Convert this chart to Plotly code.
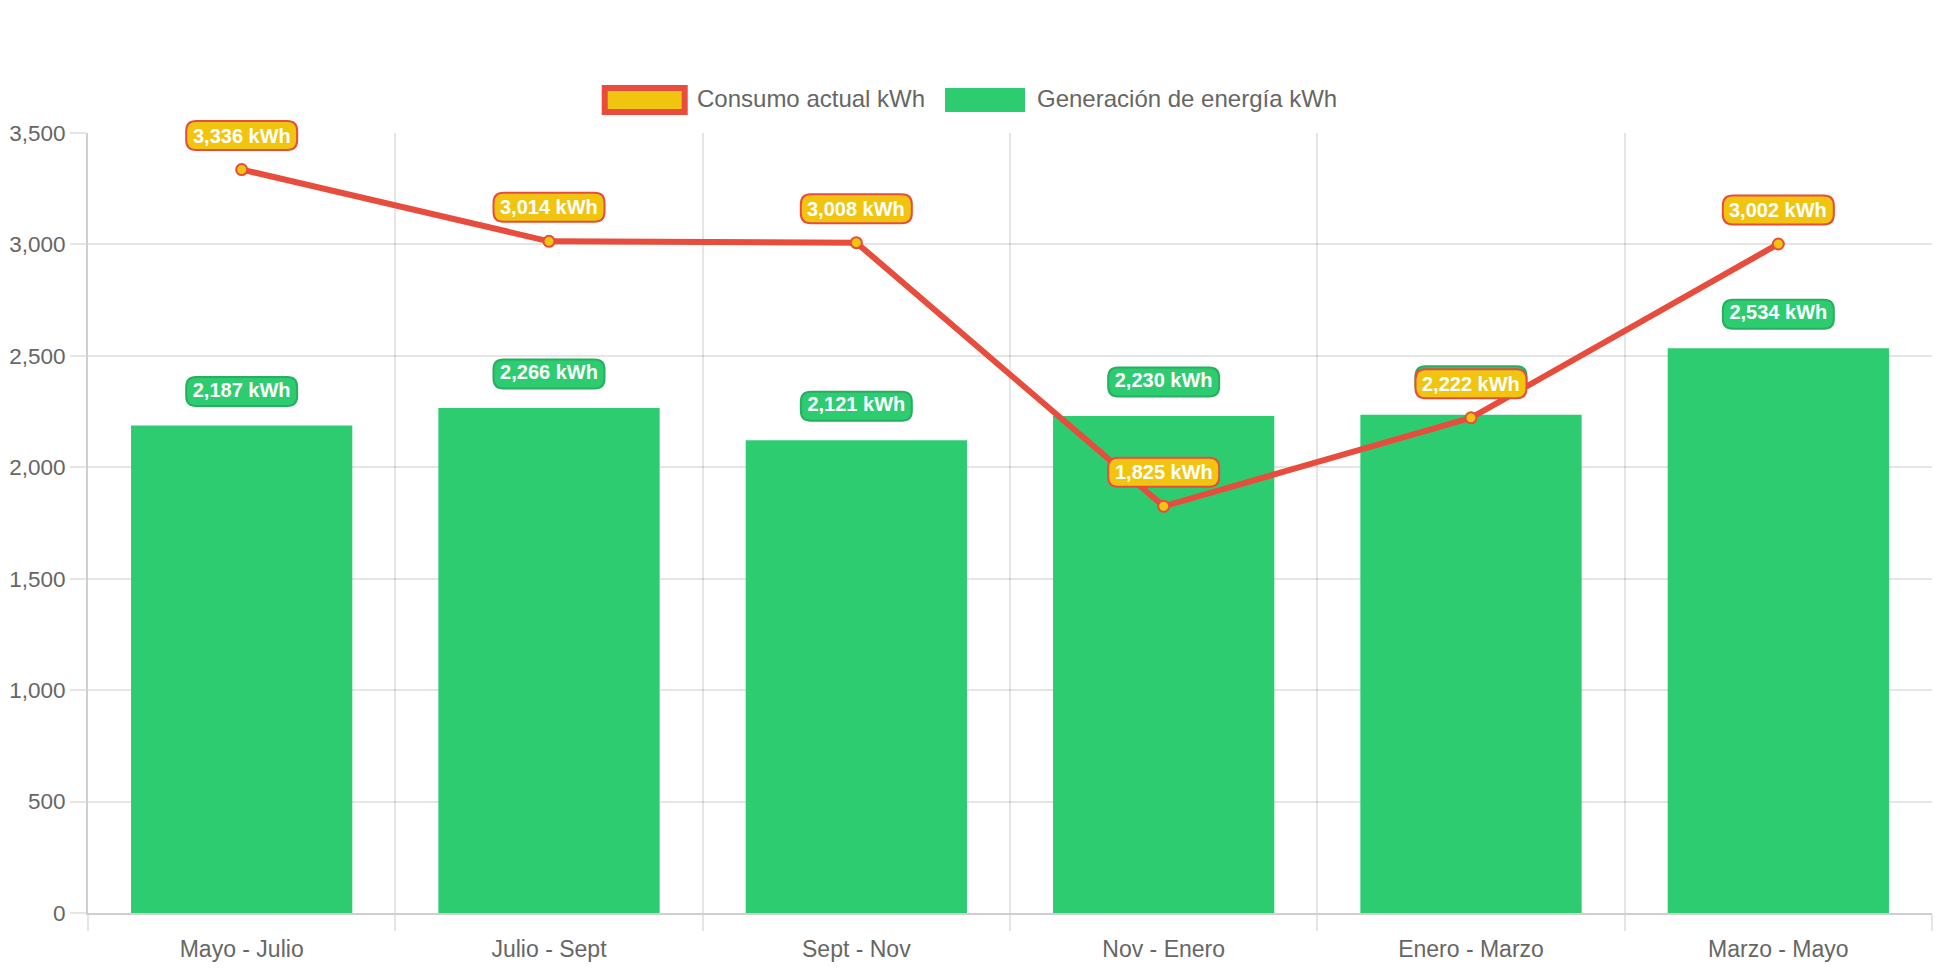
import plotly.graph_objects as go

# ---------------- data ----------------
categories = ["Mayo - Julio", "Julio - Sept", "Sept - Nov", "Nov - Enero", "Enero - Marzo", "Marzo - Mayo"]
consumo_kwh = [3336, 3014, 3008, 1825, 2222, 3002]
generacion_kwh = [2187, 2266, 2121, 2230, 2236, 2534]
y_ticks = [0, 500, 1000, 1500, 2000, 2500, 3000, 3500]
series_names = ["Consumo actual kWh", "Generación de energía kWh"]

# ---------------- style / layout constants ----------------
W, H = 1926, 954
ML, MR, MT, MB = 80, 2, 125, 49
PW, PH = W - ML - MR, H - MT - MB
YMAX = 3500

RED = "#e74c3c"
YELLOW = "#f1c40f"
GREEN = "#2ecc71"
GREEN_DARK = "#27ae60"
GRID = "rgba(0,0,0,0.1)"
AXIS = "#cfcfcf"
TXT = "#666666"
FONT = "Liberation Sans, Arial, Helvetica, sans-serif"

LABEL_OFF = 34          # px above value
BOX_W, BOX_H, BOX_R = 111, 29, 10


def fmt(v):
    return f"{v:,} kWh"


def rounded_path(cx, cy, w, h, r):
    x0, x1 = cx - w / 2, cx + w / 2
    y0, y1 = cy - h / 2, cy + h / 2
    return (f"M{x0 + r},{y0} L{x1 - r},{y0} Q{x1},{y0} {x1},{y0 + r} "
            f"L{x1},{y1 - r} Q{x1},{y1} {x1 - r},{y1} L{x0 + r},{y1} "
            f"Q{x0},{y1} {x0},{y1 - r} L{x0},{y0 + r} Q{x0},{y0} {x0 + r},{y0} Z")


def px_x(x):
    return (x - ML) / PW


def px_y(y):
    return (H - MB - y) / PH


def val_to_paper(v):
    # linear y scale [0, YMAX] -> paper fraction (avoids clipping of label boxes)
    return v / YMAX


fig = go.Figure()

# bars
fig.add_trace(go.Bar(
    x=categories, y=generacion_kwh, name=series_names[1],
    marker=dict(color=GREEN, line=dict(width=0)),
    showlegend=False, hoverinfo="skip",
))

# green label text (drawn with traces, above 'between' shapes)
off_units = LABEL_OFF * YMAX / PH
fig.add_trace(go.Scatter(
    x=categories, y=[v + off_units for v in generacion_kwh],
    mode="text", text=[fmt(v) for v in generacion_kwh],
    textposition="middle center",
    textfont=dict(family=FONT, size=20, color="white", weight="bold"),
    showlegend=False, hoverinfo="skip", cliponaxis=False,
))

# line
fig.add_trace(go.Scatter(
    x=categories, y=consumo_kwh, name=series_names[0], mode="lines+markers",
    line=dict(color=RED, width=6),
    marker=dict(size=11, color=YELLOW, line=dict(color=RED, width=2)),
    showlegend=False, hoverinfo="skip", cliponaxis=False,
))

shapes = []
annotations = []

# green label boxes
for c, v in zip(categories, generacion_kwh):
    shapes.append(dict(
        type="path", xref="x", yref="paper", xsizemode="pixel", ysizemode="pixel",
        xanchor=c, yanchor=val_to_paper(v),
        path=rounded_path(0, LABEL_OFF, BOX_W, BOX_H, BOX_R),
        fillcolor=GREEN, line=dict(color=GREEN_DARK, width=2), layer="between",
    ))

# yellow label boxes + text
for c, v in zip(categories, consumo_kwh):
    shapes.append(dict(
        type="path", xref="x", yref="paper", xsizemode="pixel", ysizemode="pixel",
        xanchor=c, yanchor=val_to_paper(v),
        path=rounded_path(0, LABEL_OFF, BOX_W, BOX_H, BOX_R),
        fillcolor=YELLOW, line=dict(color=RED, width=2), layer="above",
    ))
    annotations.append(dict(
        x=c, y=v, xref="x", yref="y", yshift=LABEL_OFF, showarrow=False,
        text=fmt(v), xanchor="center", yanchor="middle",
        font=dict(family=FONT, size=20, color="white", weight="bold"),
    ))

# custom legend (chart.js style boxes)
legend_items = [
    (series_names[0], YELLOW, RED, 6, 596.7, 686.5),
    (series_names[1], GREEN, GREEN, 0, 937, 1026.5),
]
for name, fill, border, bw, bx, tx in legend_items:
    shapes.append(dict(
        type="rect", xref="paper", yref="paper",
        x0=px_x(bx), x1=px_x(bx + 80), y0=px_y(104), y1=px_y(80),
        fillcolor=fill, line=dict(color=border, width=bw), layer="above",
    ))
    annotations.append(dict(
        x=px_x(tx), y=px_y(91), xref="paper", yref="paper", showarrow=False,
        text=name, xanchor="left", yanchor="middle",
        font=dict(family=FONT, size=24, color=TXT),
    ))

fig.update_layout(
    width=W, height=H,
    margin=dict(l=ML, r=MR, t=MT, b=MB, pad=0, autoexpand=False),
    paper_bgcolor="white", plot_bgcolor="white",
    bargap=0.28, showlegend=False,
    shapes=shapes, annotations=annotations,
    font=dict(family=FONT, color=TXT),
    xaxis=dict(
        type="category", categoryorder="array", categoryarray=categories,
        tickson="boundaries", ticks="outside", ticklen=16, tickwidth=2, tickcolor=GRID,
        ticklabelstandoff=14, automargin=False,
        showgrid=True, gridcolor=GRID, gridwidth=2,
        showline=True, linecolor=AXIS, linewidth=2,
        zeroline=False, tickfont=dict(family=FONT, size=23, color=TXT),
        fixedrange=True,
    ),
    yaxis=dict(
        range=[0, YMAX], tickmode="array", tickvals=y_ticks,
        ticktext=[f"{t:,}" for t in y_ticks], automargin=False,
        ticks="outside", ticklen=16, tickwidth=2, tickcolor=GRID,
        showgrid=True, gridcolor=GRID, gridwidth=2,
        showline=True, linecolor=AXIS, linewidth=2,
        zeroline=False, tickfont=dict(family=FONT, size=22.5, color=TXT),
        fixedrange=True,
    ),
)

fig.write_html("out.html", config={"displayModeBar": False})
